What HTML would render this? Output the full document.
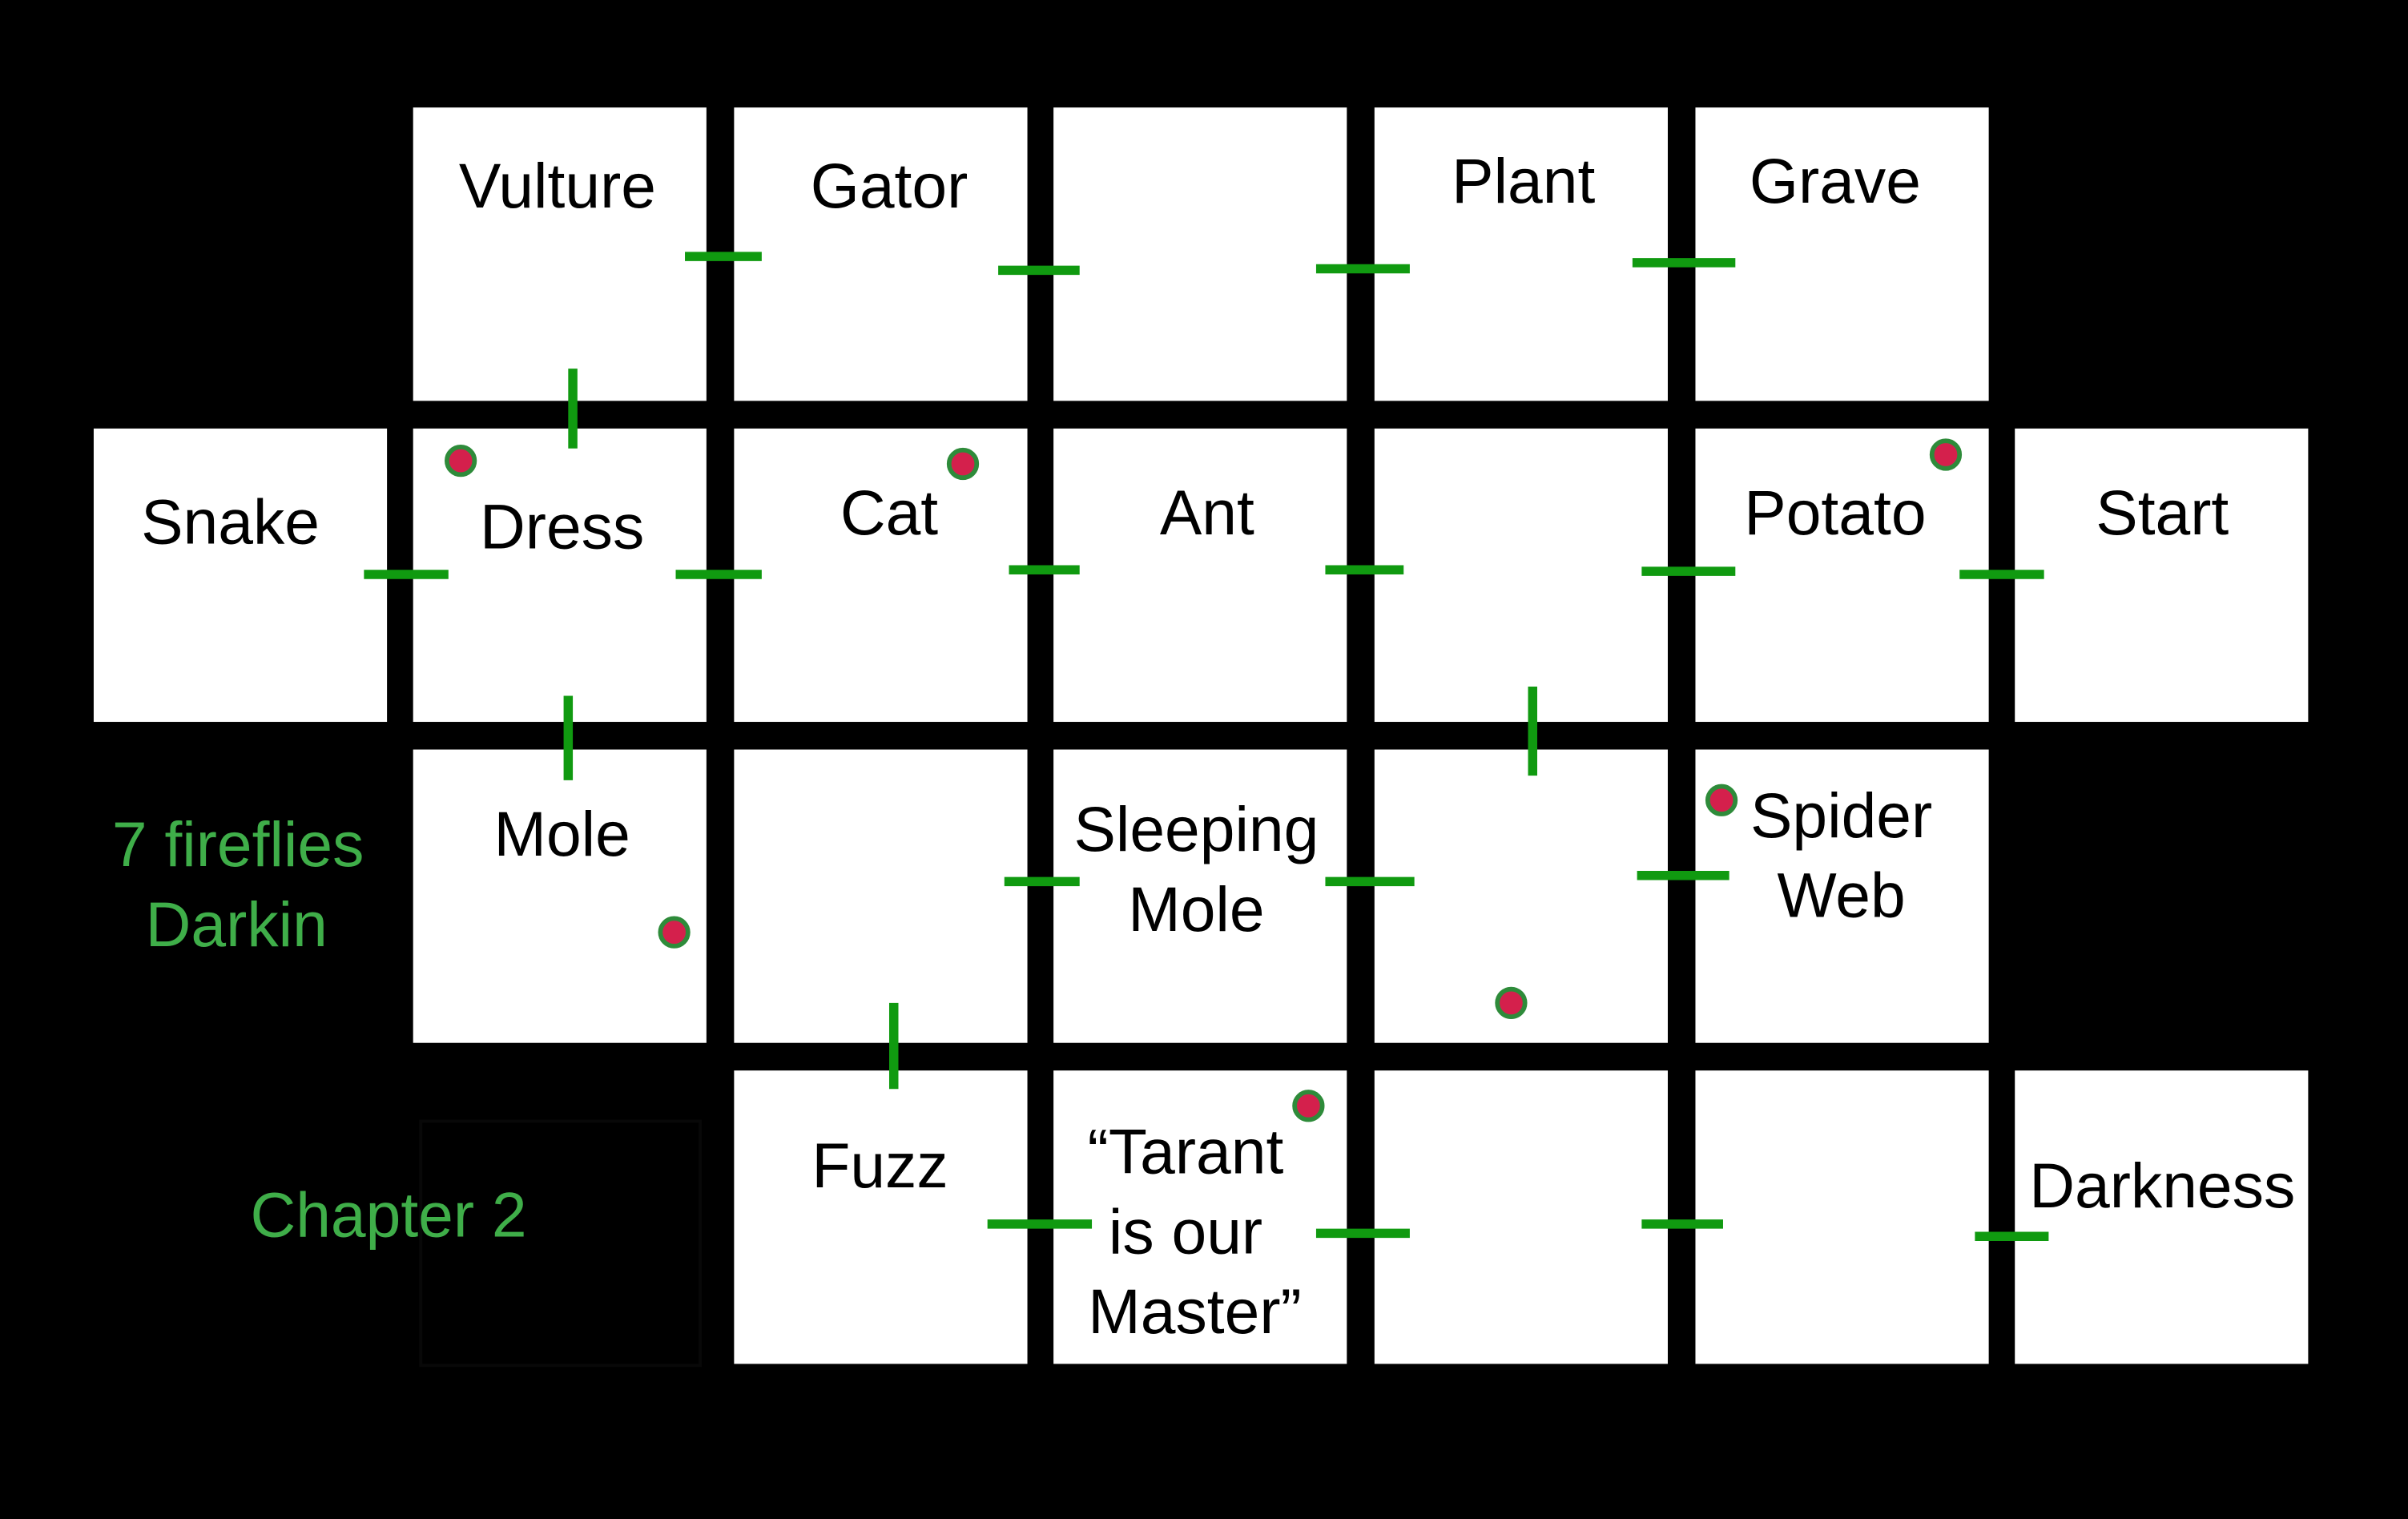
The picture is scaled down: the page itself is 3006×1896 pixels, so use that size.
<!DOCTYPE html>
<html><head><meta charset="utf-8"><style>
html,body{margin:0;padding:0;background:#000;width:3006px;height:1896px;overflow:hidden}
svg{display:block}
text{font-family:"Liberation Sans",sans-serif;font-size:41px;text-anchor:middle}
</style></head><body>
<svg width="3006" height="1896" viewBox="0 0 1568 989" xmlns="http://www.w3.org/2000/svg">
<rect width="1568" height="989" fill="#000"/>
<g fill="#fff">
<rect x="269" y="70" width="191" height="191"/>
<rect x="478" y="70" width="191" height="191"/>
<rect x="686" y="70" width="191" height="191"/>
<rect x="895" y="70" width="191" height="191"/>
<rect x="1104" y="70" width="191" height="191"/>
<rect x="61" y="279" width="191" height="191"/>
<rect x="269" y="279" width="191" height="191"/>
<rect x="478" y="279" width="191" height="191"/>
<rect x="686" y="279" width="191" height="191"/>
<rect x="895" y="279" width="191" height="191"/>
<rect x="1104" y="279" width="191" height="191"/>
<rect x="1312" y="279" width="191" height="191"/>
<rect x="269" y="488" width="191" height="191"/>
<rect x="478" y="488" width="191" height="191"/>
<rect x="686" y="488" width="191" height="191"/>
<rect x="895" y="488" width="191" height="191"/>
<rect x="1104" y="488" width="191" height="191"/>
<rect x="478" y="697" width="191" height="191"/>
<rect x="686" y="697" width="191" height="191"/>
<rect x="895" y="697" width="191" height="191"/>
<rect x="1104" y="697" width="191" height="191"/>
<rect x="1312" y="697" width="191" height="191"/>
</g>
<rect x="274" y="730" width="182" height="159" fill="none" stroke="#080808" stroke-width="2"/>
<g fill="#000">
<text x="363" y="135">Vulture</text>
<text x="579" y="135">Gator</text>
<text x="992" y="132">Plant</text>
<text x="1195" y="132">Grave</text>
<text x="150" y="354">Snake</text>
<text x="366" y="357">Dress</text>
<text x="579" y="348">Cat</text>
<text x="786" y="348">Ant</text>
<text x="1195" y="348">Potato</text>
<text x="1408" y="348">Start</text>
<text x="366" y="557">Mole</text>
<text x="779" y="554">Sleeping</text>
<text x="779" y="606">Mole</text>
<text x="1199" y="545">Spider</text>
<text x="1199" y="597">Web</text>
<text x="573" y="773">Fuzz</text>
<text x="772" y="764">“Tarant</text>
<text x="772" y="816">is our</text>
<text x="778" y="868">Master”</text>
<text x="1408" y="786">Darkness</text>
</g>
<g fill="#3fae49">
<text x="155" y="564">7 fireflies</text>
<text x="154" y="616">Darkin</text>
<text x="253" y="805">Chapter 2</text>
</g>
<g stroke="#109a10" stroke-width="6" stroke-linecap="butt">
<line x1="446" y1="167" x2="496" y2="167"/>
<line x1="650" y1="176" x2="703" y2="176"/>
<line x1="857" y1="175" x2="918" y2="175"/>
<line x1="1063" y1="171" x2="1130" y2="171"/>
<line x1="237" y1="374" x2="292" y2="374"/>
<line x1="440" y1="374" x2="496" y2="374"/>
<line x1="657" y1="371" x2="703" y2="371"/>
<line x1="863" y1="371" x2="914" y2="371"/>
<line x1="1069" y1="372" x2="1130" y2="372"/>
<line x1="1276" y1="374" x2="1331" y2="374"/>
<line x1="654" y1="574" x2="703" y2="574"/>
<line x1="863" y1="574" x2="921" y2="574"/>
<line x1="1066" y1="570" x2="1126" y2="570"/>
<line x1="643" y1="797" x2="711" y2="797"/>
<line x1="857" y1="803" x2="918" y2="803"/>
<line x1="1069" y1="797" x2="1122" y2="797"/>
<line x1="1286" y1="805" x2="1334" y2="805"/>
<line x1="373" y1="240" x2="373" y2="292"/>
<line x1="370" y1="453" x2="370" y2="508"/>
<line x1="998" y1="447" x2="998" y2="505"/>
<line x1="582" y1="653" x2="582" y2="709"/>
</g>
<g fill="#d4204c" stroke="#2e8b3a" stroke-width="3">
<circle cx="300" cy="300" r="9"/>
<circle cx="627" cy="302" r="9"/>
<circle cx="1267" cy="296" r="9"/>
<circle cx="439" cy="607" r="9"/>
<circle cx="1121" cy="521" r="9"/>
<circle cx="984" cy="653" r="9"/>
<circle cx="852" cy="720" r="9"/>
</g>
</svg>
</body></html>
